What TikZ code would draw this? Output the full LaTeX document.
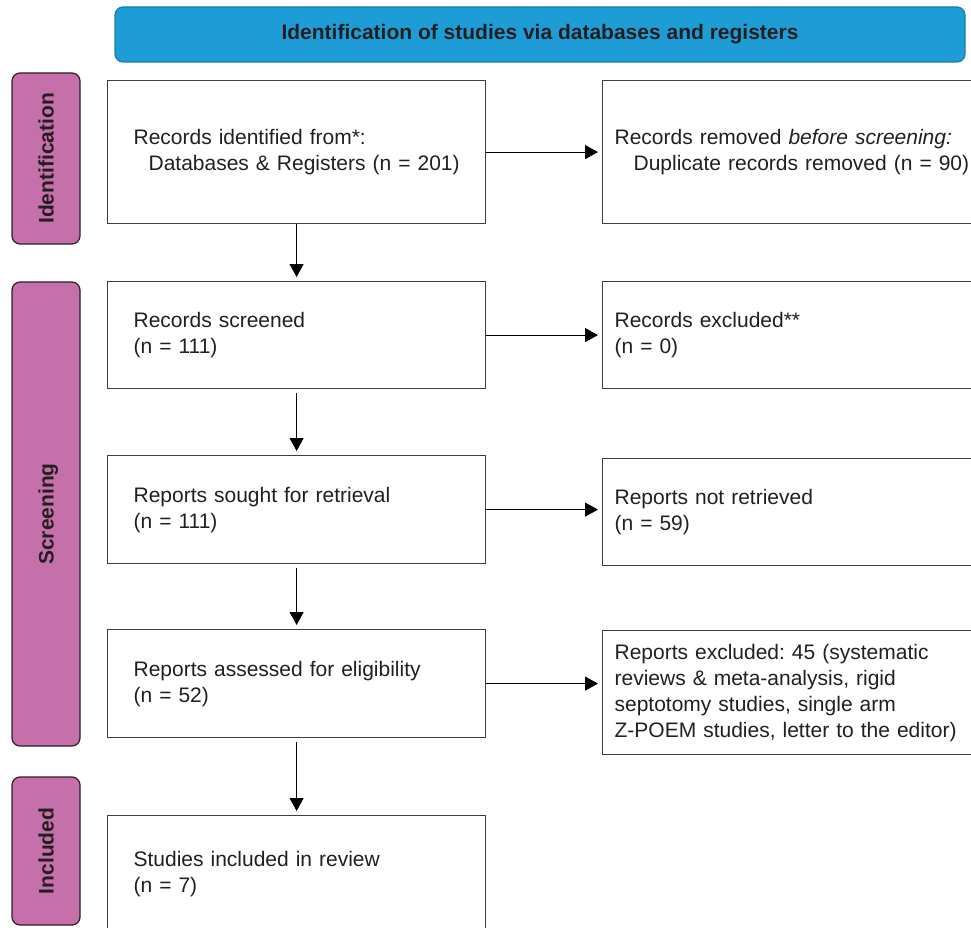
\documentclass[tikz,border=0pt]{standalone}
\usepackage{fontspec}
\setmainfont{Liberation Sans}
\usetikzlibrary{arrows.meta}
\definecolor{bannerblue}{RGB}{29,156,214}
\definecolor{bannerline}{RGB}{24,124,178}
\definecolor{tabpink}{RGB}{197,112,170}
\definecolor{tabline}{RGB}{45,30,40}
\definecolor{textgray}{RGB}{35,31,32}
\definecolor{boxline}{RGB}{62,62,62}
\frenchspacing

\begin{document}
\begin{tikzpicture}[x=1pt,y=1pt,
        box/.style={draw=boxline,line width=1.2pt,anchor=north west,align=left,text=textgray,
            inner ysep=0pt,font=\fontsize{21}{26}\selectfont},
        leftbox/.style={box,text width=326pt,inner xsep=26pt},
        rightbox/.style={box,text width=376pt,inner xsep=12pt},
        phase/.style={draw=tabline,line width=1.2pt,fill=tabpink,rounded corners=8pt,rotate=90,
            minimum height=68pt,text=textgray,text height=15pt,text depth=0pt,
            font=\fontsize{21}{26}\selectfont\bfseries},
        arr/.style={-{Triangle[length=13pt,width=14pt]},line width=1.1pt,shorten >=4pt}]
        \useasboundingbox (0,0) rectangle (971,-928);
        \clip (0,0) rectangle (971,-928);

        \node[draw=bannerline,line width=1.2pt,fill=bannerblue,rounded corners=8pt,
            minimum width=850pt,minimum height=55pt,text=textgray,
            font=\fontsize{21}{26}\selectfont\bfseries] (banner) at (540,-34.5)
            {Identification of studies via databases and registers};

        \node[phase,minimum width=171pt] (tabid) at (46,-158.5) {Identification};
        \node[phase,minimum width=464pt] (tabscreen) at (46,-514) {Screening};
        \node[phase,minimum width=148pt] (tabincl) at (46,-851) {Included};

        \node[leftbox,minimum height=143pt] (identified) at (107,-80)
            {Records identified from*:\\\mbox{\hspace*{15pt}Databases \& Registers (n = 201)}};
        \node[leftbox,minimum height=107pt] (screened) at (107,-281)
            {Records screened\\(n = 111)};
        \node[leftbox,minimum height=108pt] (sought) at (107,-455)
            {Reports sought for retrieval\\(n = 111)};
        \node[leftbox,minimum height=108pt] (assessed) at (107,-629)
            {Reports assessed for eligibility\\(n = 52)};
        \node[leftbox,minimum height=116pt] (included) at (107,-815)
            {Studies included in review\\(n = 7)};

        \node[rightbox,minimum height=143pt] (removed) at (602,-80)
            {Records removed \textit{before screening:}\\\mbox{\hspace*{19pt}Duplicate records removed (n = 90)}};
        \node[rightbox,minimum height=107pt] (excluded) at (602,-281)
            {Records excluded**\\(n = 0)};
        \node[rightbox,minimum height=107pt] (notretrieved) at (602,-458)
            {Reports not retrieved\\(n = 59)};
        \node[rightbox,minimum height=124pt] (reportsexcl) at (602,-630)
            {Reports excluded: 45 (systematic\\reviews \& meta-analysis, rigid\\septotomy studies, single arm\\Z-POEM studies, letter to the editor)};

        \draw[arr] (identified.south) -- (screened.north);
        \draw[arr,shorten <=4pt] (screened.south) -- (sought.north);
        \draw[arr,shorten <=4pt] (sought.south) -- (assessed.north);
        \draw[arr,shorten <=4pt] (assessed.south) -- (included.north);

        \draw[arr] (identified.east) -- (identified.east -| removed.west);
        \draw[arr] (screened.east) -- (screened.east -| excluded.west);
        \draw[arr] (sought.east) -- (sought.east -| notretrieved.west);
        \draw[arr] (assessed.east) -- (assessed.east -| reportsexcl.west);
    \end{tikzpicture}
\end{document}
